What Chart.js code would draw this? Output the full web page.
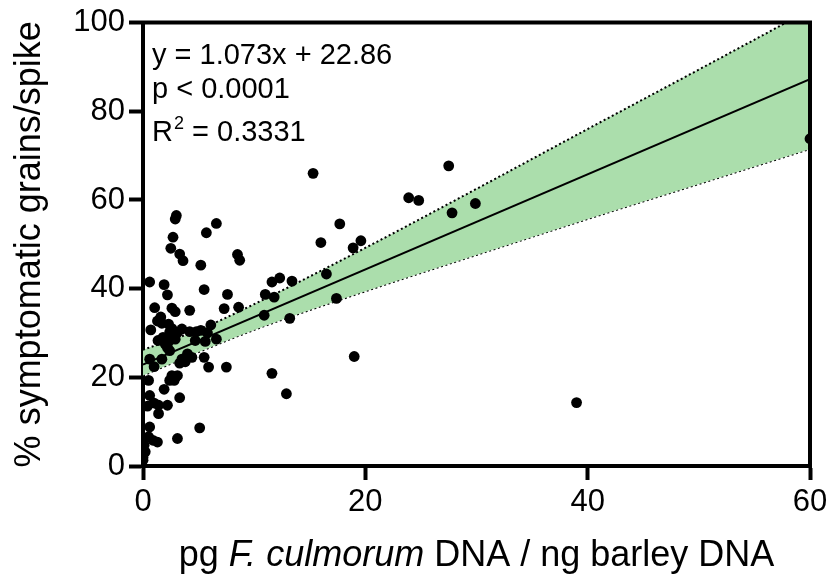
<!DOCTYPE html>
<html lang="en">
<head>
    <meta charset="UTF-8">
    <title>Symptomatic grains vs F. culmorum DNA</title>
    <script src="https://cdn.jsdelivr.net/npm/chart.js"></script>
    <style>
        html, body { margin: 0; padding: 0; background: #fff; }
        #wrap { width: 839px; height: 588px; }
    </style>
</head>
<body>
    <div id="wrap"><canvas id="grafico"></canvas></div>

    <script>
        // pg F. culmorum DNA / ng barley DNA
        const dnaX = [
            60.0, 39.0, 27.5, 23.9, 24.8, 29.9, 27.8, 15.3, 17.7, 16.0,
            19.6, 18.9, 16.5, 11.6, 12.3, 13.4, 11.0, 11.8, 17.4, 10.9,
            13.2, 19.0, 11.6, 12.9, 8.5, 8.7, 7.6, 8.6, 7.3, 7.5,
            3.0, 2.9, 6.6, 5.7, 2.7, 2.5, 3.3, 3.6, 5.2, 0.6,
            1.9, 2.2, 5.5, 1.05, 2.6, 2.9, 4.2, 1.6, 1.3, 1.7,
            2.3, 0.7, 2.6, 2.4, 3.1, 3.5, 4.2, 4.8, 5.2, 5.8,
            6.1, 1.35, 1.8, 2.0, 2.3, 2.9, 5.6, 6.6, 2.2, 2.4,
            4.7, 0.6, 1.7, 1.0, 3.5, 3.8, 4.0, 4.4, 3.3, 5.5,
            5.9, 0.5, 2.6, 2.9, 3.1, 2.4, 2.8, 1.9, 3.3, 0.6,
            0.4, 1.0, 1.4, 2.2, 1.4, 5.1, 0.6, 0.5, 0.9, 1.3,
            3.1, 0.1, 0.0, 0.2, 0.0, 0.0
        ];
        // % symptomatic grains/spike
        const symptomY = [
            73.8, 14.3, 67.7, 60.5, 59.9, 59.2, 57.1, 66.0, 54.6, 50.4,
            50.8, 49.2, 43.3, 41.5, 42.4, 41.7, 38.7, 38.1, 37.8, 34.0,
            33.3, 24.7, 20.9, 16.3, 47.7, 46.4, 38.7, 35.8, 35.5, 22.3,
            56.5, 55.7, 54.7, 52.6, 51.6, 49.1, 47.8, 46.3, 45.3, 41.5,
            40.9, 38.6, 39.8, 35.7, 35.6, 34.8, 35.1, 33.6, 32.7, 32.2,
            32.0, 30.7, 31.0, 30.2, 30.1, 30.9, 30.3, 30.3, 30.6, 30.0,
            31.8, 28.3, 29.0, 27.5, 28.1, 28.6, 28.1, 28.6, 26.7, 26.0,
            28.3, 24.1, 24.1, 22.4, 24.1, 23.5, 25.3, 24.5, 23.2, 24.5,
            22.3, 19.3, 20.4, 19.9, 20.4, 19.3, 19.3, 17.3, 15.4, 15.9,
            13.5, 14.2, 13.7, 13.7, 11.8, 8.6, 8.8, 6.6, 5.8, 5.4,
            6.2, 4.7, 3.6, 3.2, 1.9, 1.3
        ];

        // regression line and 95% band
        const fitX = [0, 60];
        const fitY = [22.86, 87.24];
        const bandX = [0, 5, 10, 20, 30, 40, 50, 60];
        const bandUpper = [26.2, 30.7, 36.5, 49.2, 62.5, 76.0, 89.4, 102.9];
        const bandLower = [20.4, 25.7, 30.7, 39.4, 47.6, 55.7, 63.6, 71.5];

        const xTicks = [0, 20, 40, 60];
        const yTicks = [0, 20, 40, 60, 80, 100];

        const fonte = '"Liberation Sans", Arial, Helvetica, sans-serif';
        Chart.defaults.font.family = fonte;
        Chart.defaults.color = '#000';

        function pares(xs, ys) {
            return xs.map((x, i) => ({ x: x, y: ys[i] }));
        }

        // top and right sides of the box
        const moldura = {
            id: 'moldura',
            afterDatasetsDraw(chart) {
                const a = chart.chartArea;
                const ctx = chart.ctx;
                ctx.save();
                ctx.strokeStyle = '#000';
                ctx.lineWidth = 4;
                ctx.beginPath();
                ctx.moveTo(a.left - 2, a.top);
                ctx.lineTo(a.right, a.top);
                ctx.lineTo(a.right, a.bottom + 2);
                ctx.stroke();
                ctx.restore();
            }
        };

        // equation box and x axis title (title has an italic part)
        const textos = {
            id: 'textos',
            afterDraw(chart) {
                const a = chart.chartArea;
                const ctx = chart.ctx;
                ctx.save();
                ctx.fillStyle = '#000';
                ctx.textBaseline = 'alphabetic';
                ctx.textAlign = 'left';
                const x0 = a.left + 9;
                ctx.font = '29px ' + fonte;
                ctx.fillText('y = 1.073x + 22.86', x0, a.top + 41);
                ctx.fillText('p < 0.0001', x0, a.top + 75);
                let x = x0;
                ctx.fillText('R', x, a.top + 118);
                x += ctx.measureText('R').width + 1;
                ctx.font = '18px ' + fonte;
                ctx.fillText('2', x, a.top + 106);
                x += ctx.measureText('2').width;
                ctx.font = '29px ' + fonte;
                ctx.fillText(' = 0.3331', x, a.top + 118);

                // x title
                const partes = [
                    ['pg ', 'normal'],
                    ['F. culmorum', 'italic'],
                    [' DNA / ng barley DNA', 'normal']
                ];
                let total = 0;
                partes.forEach(p => {
                    ctx.font = p[1] + ' 36px ' + fonte;
                    total += ctx.measureText(p[0]).width;
                });
                let xt = (a.left + a.right) / 2 - total / 2;
                partes.forEach(p => {
                    ctx.font = p[1] + ' 36px ' + fonte;
                    ctx.fillText(p[0], xt, 566);
                    xt += ctx.measureText(p[0]).width;
                });
                ctx.restore();
            }
        };

        new Chart(document.getElementById('grafico'), {
            type: 'scatter',
            data: {
                datasets: [{
                    label: 'amostras',
                    data: pares(dnaX, symptomY),
                    backgroundColor: '#000',
                    borderWidth: 0,
                    pointRadius: 5.4,
                    pointHoverRadius: 5.4
                }, {
                    type: 'line',
                    label: 'ajuste',
                    data: pares(fitX, fitY),
                    borderColor: '#000',
                    borderWidth: 2,
                    pointRadius: 0,
                    fill: false
                }, {
                    type: 'line',
                    label: 'IC superior',
                    data: pares(bandX, bandUpper),
                    borderColor: '#000',
                    borderWidth: 2,
                    borderDash: [2, 2.6],
                    backgroundColor: '#abdeac',
                    pointRadius: 0,
                    cubicInterpolationMode: 'monotone',
                    fill: '+1'
                }, {
                    type: 'line',
                    label: 'IC inferior',
                    data: pares(bandX, bandLower),
                    borderColor: '#000',
                    borderWidth: 2,
                    borderDash: [2, 2.6],
                    pointRadius: 0,
                    cubicInterpolationMode: 'monotone',
                    fill: false
                }]
            },
            options: {
                responsive: true,
                maintainAspectRatio: false,
                animation: false,
                layout: { padding: { top: 20, right: 29, left: 0, bottom: 0 } },
                plugins: {
                    legend: { display: false },
                    tooltip: { enabled: false }
                },
                scales: {
                    x: {
                        type: 'linear',
                        min: 0,
                        max: 60,
                        afterFit(scale) { scale.height = 122; },
                        afterBuildTicks(scale) { scale.ticks = xTicks.map(v => ({ value: v })); },
                        border: { display: true, color: '#000', width: 4 },
                        grid: { drawOnChartArea: false, drawTicks: true, tickLength: 14, tickWidth: 4, tickColor: '#000' },
                        ticks: { font: { size: 31 }, padding: 4, maxRotation: 0 }
                    },
                    y: {
                        type: 'linear',
                        min: 0,
                        max: 100,
                        afterFit(scale) { scale.width = 143; },
                        afterBuildTicks(scale) { scale.ticks = yTicks.map(v => ({ value: v })); },
                        border: { display: true, color: '#000', width: 4 },
                        grid: { drawOnChartArea: false, drawTicks: true, tickLength: 14, tickWidth: 4, tickColor: '#000' },
                        ticks: { font: { size: 31 }, padding: 4 },
                        title: {
                            display: true,
                            text: '% symptomatic grains/spike',
                            font: { size: 36 },
                            padding: { top: 8, bottom: 0 }
                        }
                    }
                }
            },
            plugins: [moldura, textos]
        });
    </script>
</body>
</html>
